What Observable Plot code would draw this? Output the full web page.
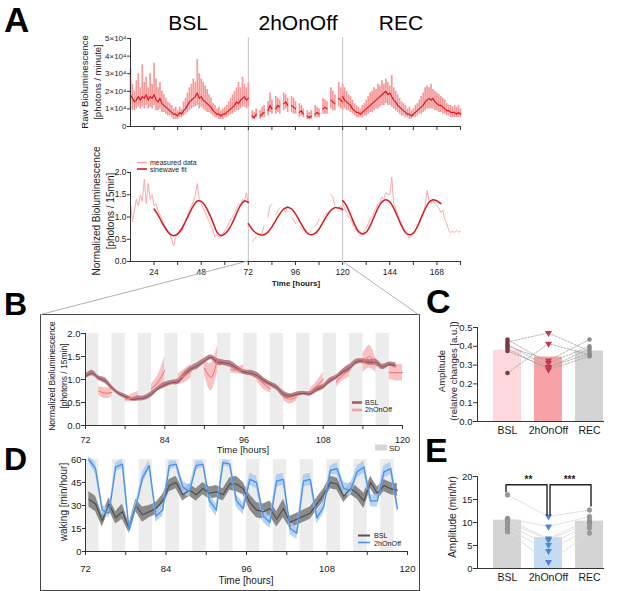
<!DOCTYPE html>
<html><head><meta charset="utf-8">
<script src="https://cdn.jsdelivr.net/npm/d3@7"></script>
<script src="https://cdn.jsdelivr.net/npm/@observablehq/plot@0.6"></script>
<style>
body{margin:0;background:#fff;}
#fig{position:relative;width:617px;height:591px;overflow:hidden;background:#fff;}
</style></head><body><div id="fig"></div>
<script>
// ---------------- DATA ----------------
const sessions = ["BSL", "2hOnOff", "REC"];
const sessionBounds = [72, 120];
const sdStarts = [72, 76, 80, 84, 88, 92, 96, 100, 104, 108, 112, 116];
const sdDuration = 2;
const onOffStarts = [74, 78, 82, 86, 90, 94, 98, 102, 106, 110, 114, 118];

// Panel A top: raw bioluminescence (thousands of photons / minute), hourly
const rawCoreBSL = [18,16,14,15,17,15,17,16,18,15, 17,16,18,15,14,16,13,12,11,10, 9,8,7,7,6,8,7,9,10,12, 14,15,16,17,19,16,17,15,14,13, 12,11,9,8,7,7,6,7,7,8, 9,10,11,12,14,13,15,16,17,15, 16];
const rawPeakBSL = [33,24,20,26,30,22,35,25,28,22, 30,24,36,27,22,25,20,18,16,14, 13,12,10,11,9,11,10,14,16,19, 22,24,27,25,38,30,27,25,23,21, 18,16,13,12,10,11,9,10,11,12, 14,16,18,20,22,25,22,28,24,22, 25];
const rawLowBSL  = [10,9,9,10,11,10,11,10,12,10, 11,10,12,9,9,10,8,8,7,6, 6,5,4,4,4,5,5,6,7,8, 9,10,11,11,12,10,11,10,9,8, 8,7,6,5,5,4,4,4,5,5, 6,7,7,8,9,9,10,11,11,10, 11];
const rawCore2h = [6,5,7, 6,7,8, 9,12,10, 10,12,11, 13,14,12, 12,11,10, 8,9,7, 6,5,6, 7,8,7, 10,11,10, 15,14,13, 16,15,14];
const rawPeak2h = [9,8,10, 9,11,12, 14,19,15, 17,16,15, 19,18,16, 17,16,14, 13,12,10, 9,8,9, 12,11,10, 16,15,14, 22,20,18, 25,22,20];
const rawLow2h  = [4,4,5, 4,5,5, 6,8,7, 7,8,7, 9,10,8, 8,7,7, 5,6,5, 4,4,4, 5,5,5, 7,7,7, 10,9,9, 11,10,9];
const rawCoreREC = [17,15,14,13,12,10,9,8,8,7, 8,9,10,11,12,13,14,15,16,17, 18,19,20,18,19,17,15,14,12,11, 10,9,8,7,7,6,7,8,9,10, 11,12,14,15,16,15,16,14,13,12, 12,11,10,9,9,8,8,8,7,8, 7];
const rawPeakREC = [24,22,20,18,17,15,13,12,11,10, 12,13,15,17,19,20,22,21,24,23, 26,24,27,25,23,29,22,20,18,16, 14,13,12,10,11,9,10,12,13,15, 17,19,22,23,22,24,21,20,19,18, 17,16,15,13,12,12,11,12,11,12, 10];
const rawLowREC  = [11,10,9,9,8,7,6,5,5,5, 5,6,6,7,8,8,9,10,10,11, 12,12,13,12,12,11,10,9,8,7, 6,6,5,5,4,4,5,5,6,7, 7,8,9,10,10,10,10,9,9,8, 8,7,7,6,6,5,5,5,5,5, 5];
const rawTickValues = [0, 10, 20, 30, 40, 50];
const rawTickLabels = ["0", "1×10⁴", "2×10⁴", "3×10⁴", "4×10⁴", "5×10⁴"];

// Panel A bottom: normalized bioluminescence, hourly measured + sinewave fit (2 h)
const measBSL = [1.3,0.9,1.15,1.4,1.25,1.5,1.35,1.85,1.3,1.75, 1.4,1.5,1.25,1.3,1.15,1.05,0.95,0.85,0.75,0.7, 0.6,0.5,0.35,0.55,0.6,0.7,0.65,0.8,0.9,1.0, 1.15,1.25,1.35,1.5,1.75,1.4,1.3,1.2,1.1,1.0, 0.9,0.8,0.7,0.55,0.6,0.55,0.6,0.62,0.7,0.75, 0.85,0.95,1.0,1.1,1.2,1.3,1.25,1.4,1.35,1.55, 1.3];
const meas2h = [0.45,0.5,0.55, 0.6,0.65,0.8, 1.0,1.25,1.3, 1.05,1.15,1.2, 1.2,1.1,1.25, 1.0,0.95,0.85, 0.8,0.75,0.7, 0.6,0.65,0.7, 0.8,0.85,0.95, 1.0,1.05,1.1, 1.5,1.45,1.25, 1.2,1.25,1.15];
const measREC = [1.3,1.2,1.1,1.0,0.95,0.85,0.75,0.7,0.62,0.58, 0.62,0.7,0.75,0.85,0.95,1.0,1.1,1.2,1.3,1.35, 1.45,1.4,1.55,1.5,1.5,1.9,1.3,1.2,1.05,0.95, 0.85,0.75,0.65,0.6,0.52,0.58,0.6,0.7,0.8,0.9, 1.0,1.1,1.25,1.6,1.35,1.3,1.4,1.3,1.25,1.2, 1.1,1.15,0.95,0.85,0.7,0.65,0.68,0.65,0.7,0.66, 0.68];
const fitBSL = [1.18,1.05,0.88,0.73,0.62,0.58,0.62,0.73,0.9,1.08,1.25,1.36,1.35,1.25,1.08,0.88,0.66,0.58,0.62,0.72,0.88,1.08,1.26,1.36,1.33];
const fit2h  = [0.85,0.72,0.64,0.6,0.6,0.66,0.78,0.93,1.07,1.18,1.22,1.18,1.07,0.92,0.76,0.64,0.6,0.63,0.73,0.88,1.03,1.15,1.21,1.2,1.17];
const fitREC = [1.37,1.25,1.05,0.84,0.68,0.62,0.66,0.8,1.0,1.2,1.34,1.39,1.34,1.2,1.0,0.8,0.65,0.6,0.64,0.78,0.98,1.18,1.33,1.39,1.36,1.3];
const ticksA = [24,36,48,60,72,84,96,108,120,132,144,156,168,180];
const labelsA = [24,48,72,96,120,144,168];

// Panel B: hourly mean ± SD
const bBSL = [1.06,1.14,1.03,0.97,0.82,0.7,0.63,0.57,0.58,0.6, 0.68,0.8,0.88,0.93,0.95,1.1,1.23,1.3,1.4,1.48, 1.38,1.36,1.33,1.24,1.16,1.14,1.08,0.98,0.9,0.82, 0.68,0.64,0.68,0.7,0.69,0.78,0.84,0.97,1.05,1.17, 1.25,1.38,1.4,1.37,1.37,1.27,1.33,1.3];
const bBSLsd = [0.05,0.06,0.05,0.06,0.05,0.04,0.05,0.04,0.05,0.05, 0.06,0.05,0.06,0.05,0.06,0.07,0.06,0.07,0.06,0.05, 0.07,0.06,0.07,0.06,0.05,0.06,0.07,0.06,0.05,0.06, 0.07,0.05,0.05,0.04,0.05,0.06,0.05,0.06,0.05,0.06, 0.07,0.06,0.05,0.06,0.07,0.06,0.05,0.06];
const b2h = [0.75,0.7,0.72, 0.57,0.6,0.65, 0.8,0.95,1.2, 1.0,1.08,1.18, 1.25,1.05,1.45, 1.22,1.2,1.22, 1.05,0.9,0.8, 0.62,0.57,0.62, 0.72,0.85,1.0, 0.95,1.1,1.2, 1.35,1.5,1.3, 1.15,1.15,1.15];
const b2hsd = [0.1,0.12,0.1, 0.06,0.08,0.1, 0.1,0.15,0.3, 0.12,0.15,0.15, 0.15,0.3,0.3, 0.08,0.08,0.1, 0.1,0.12,0.1, 0.08,0.1,0.08, 0.08,0.1,0.15, 0.12,0.12,0.15, 0.2,0.25,0.15, 0.15,0.18,0.18];
const ticksBD = [72,78,84,90,96,102,108,114,120];
const labelsBD = [72,84,96,108,120];

// Panel D: waking (min/hour), hourly bins centred at 72.5 ... 118.5
const dBSL = [34,31,20,31,22,26,15,30,24,26, 28,33,43,45,37,40,37,41,38,39, 37,44,44,41,32,27,26,28,21,28, 19,21,23,25,31,37,45,44,36,41, 38,33,45,38,43,41,40];
const dBSLsd = [5,5,4,4,4,5,3,4,5,4, 4,4,4,4,4,4,4,4,4,4, 4,4,5,4,5,5,5,5,5,6, 4,4,4,4,4,4,4,4,4,4, 4,5,4,4,4,4,4];
const d2h = [60,54,27,25,55,57,14,29,48,56, 23,27,56,57,42,39,56,57,33,27, 58,57,33,28,47,45,23,19,46,47, 15,12,46,47,22,29,53,54,41,40, 52,55,33,33,52,54,28];
const d2hsd = [2,4,3,3,3,3,3,3,4,3, 4,4,3,2,4,4,3,2,4,4, 2,2,4,4,4,4,4,4,4,4, 4,4,4,4,4,4,3,4,4,4, 4,4,4,4,4,4,3];

// Panel C: amplitude (relative changes)
const cBars = [0.379, 0.343, 0.375];
const cBSL = [0.436,0.423,0.41,0.40,0.388,0.375,0.258];
const c2h  = [0.311,0.471,0.29,0.325,0.276,0.285,0.414];
const cREC = [0.40,0.375,0.361,0.436,0.347,0.388,0.355];

// Panel E: amplitude (min/hr)
const eBars = [10.5, 6.7, 10.3];
const eBSL = [16.0,10.9,10.6,10.2,9.5,8.7,8.0];
const e2h  = [11.3,9.1,6.5,6.2,5.1,3.8,1.4];
const eREC = [12.7,11.3,10.6,10.0,9.6,8.8,7.7];
const eBracket1 = [16.7, 18.2, 18.2, 11.6];
const eBracket2 = [11.6, 18.2, 18.2, 13.6];
const eStars = ["**", "***"];

// ---------------- BUILD ROWS ----------------
const FONT = '"Liberation Sans", Arial, Helvetica, sans-serif';
const rawRows = [
  ...rawCoreBSL.map((v,i)=>({h:12+i, core:v, peak:rawPeakBSL[i], low:rawLowBSL[i], seg:"BSL"})),
  ...rawCore2h.map((v,i)=>({h:onOffStarts[Math.floor(i/3)]+i%3, core:v, peak:rawPeak2h[i], low:rawLow2h[i], seg:"c"+Math.floor(i/3)})),
  ...rawCoreREC.map((v,i)=>({h:120+i, core:v, peak:rawPeakREC[i], low:rawLowREC[i], seg:"REC"}))
];
const measRows = [
  ...measBSL.map((v,i)=>({h:12+i, v, seg:"BSL"})),
  ...meas2h.map((v,i)=>({h:onOffStarts[Math.floor(i/3)]+i%3, v, seg:"c"+Math.floor(i/3)})),
  ...measREC.map((v,i)=>({h:120+i, v, seg:"REC"}))
];
const fitRows = [
  ...fitBSL.map((v,i)=>({h:24+2*i, v, seg:"BSL"})),
  ...fit2h.map((v,i)=>({h:72+2*i, v, seg:"2h"})),
  ...fitREC.map((v,i)=>({h:120+2*i, v, seg:"REC"}))
];
const bBSLRows = bBSL.map((m,i)=>({h:72+i, m, lo:m-bBSLsd[i], hi:m+bBSLsd[i]}));
const b2hRows = b2h.map((m,i)=>({h:onOffStarts[Math.floor(i/3)]+i%3, m, lo:m-b2hsd[i], hi:m+b2hsd[i], seg:"c"+Math.floor(i/3)}));
const dBSLRows = dBSL.map((m,i)=>({h:72.5+i, m, lo:m-dBSLsd[i], hi:m+dBSLsd[i]}));
const d2hRows = d2h.map((m,i)=>({h:72.5+i, m, lo:m-d2hsd[i], hi:m+d2hsd[i]}));
function animalRows(a,b,c){const r=[];a.forEach((v,i)=>{r.push({id:i,g:sessions[0],v});r.push({id:i,g:sessions[1],v:b[i]});r.push({id:i,g:sessions[2],v:c[i]});});return r;}
const cRows = animalRows(cBSL,c2h,cREC);
const eRows = animalRows(eBSL,e2h,eREC);

// ---------------- HELPERS ----------------
const fig = document.getElementById("fig");
function place(el,left,top){el.style.position="absolute";el.style.left=left+"px";el.style.top=top+"px";fig.appendChild(el);return el;}
function txt(s,x,base,size,{anchor="start",weight="normal",color="#1a1a1a"}={}){
  const d=document.createElement("div");d.textContent=s;
  d.style.cssText=`position:absolute;white-space:nowrap;font-family:${FONT};font-size:${size}px;line-height:1;font-weight:${weight};color:${color};`;
  d.style.left=x+"px";d.style.top=(base-0.8465*size)+"px";
  if(anchor==="middle")d.style.transform="translateX(-50%)";
  if(anchor==="end")d.style.transform="translateX(-100%)";
  fig.appendChild(d);return d;
}
function vtxt(lines,cx,cy,size,lh){
  const d=document.createElement("div");d.innerHTML=lines.join("<br>");
  d.style.cssText=`position:absolute;white-space:nowrap;text-align:center;font-family:${FONT};font-size:${size}px;line-height:${lh||size*1.2}px;color:#1a1a1a;transform:translate(-50%,-50%) rotate(-90deg);`;
  d.style.left=cx+"px";d.style.top=cy+"px";fig.appendChild(d);return d;
}
const baseStyle={fontFamily:FONT,color:"#1a1a1a",background:"transparent",overflow:"visible"};
const AX="#333";

// ---------------- PANEL A ----------------
const A1 = Plot.plot({
  width:470,height:110,marginLeft:130,marginRight:10,marginTop:8,marginBottom:14,
  style:baseStyle,
  x:{domain:[12,180]}, y:{domain:[0,50]},
  marks:[
    Plot.ruleX(sessionBounds,{stroke:"#c4c4c4",insetTop:-1,insetBottom:-14}),
    Plot.ruleX(rawRows,{x:"h",y1:"low",y2:"peak",stroke:"#f59a9a",strokeWidth:1.7}),
    Plot.line(rawRows,{x:"h",y:"core",z:"seg",stroke:"#e3121b",strokeWidth:1.2}),
    Plot.ruleY([0],{stroke:AX}),
    Plot.ruleX([12],{stroke:AX}),
    Plot.axisX({ticks:ticksA,tickSize:4,tickFormat:()=>"",label:null,stroke:AX}),
    Plot.axisY({ticks:rawTickValues,tickFormat:d=>rawTickLabels[rawTickValues.indexOf(d)],tickSize:3,tickPadding:1,fontSize:8,label:null,stroke:AX})
  ]
});
place(A1,0,30);

const A2 = Plot.plot({
  width:470,height:150,marginLeft:130,marginRight:10,marginTop:32,marginBottom:29,
  style:baseStyle,
  x:{domain:[12,180]}, y:{domain:[0,2]},
  marks:[
    Plot.ruleX(sessionBounds,{stroke:"#c4c4c4",insetTop:-32}),
    Plot.line(measRows,{x:"h",y:"v",z:"seg",stroke:"#f5a3a3",strokeWidth:0.9}),
    Plot.line(fitRows,{x:"h",y:"v",z:"seg",stroke:"#d7191f",strokeWidth:1.5,curve:"catmull-rom"}),
    Plot.ruleY([0],{stroke:AX}),
    Plot.ruleX([12],{stroke:AX}),
    Plot.axisX({ticks:ticksA,tickSize:4,tickPadding:3,tickFormat:d=>labelsA.includes(d)?d:"",fontSize:8.5,label:null,stroke:AX}),
    Plot.axisY({ticks:[0,0.5,1,1.5,2],tickFormat:".1f",tickSize:3,tickPadding:1,fontSize:8.5,label:null,stroke:AX})
  ]
});
place(A2,0,140);

// ---------------- PANEL B ----------------
const box=document.createElement("div");
box.style.cssText="position:absolute;left:40px;top:314px;width:378px;height:275px;border:1px solid #444;";
fig.appendChild(box);

const B = Plot.plot({
  width:420,height:140,marginLeft:85,marginRight:18,marginTop:17,marginBottom:31,
  style:baseStyle,
  x:{domain:[72,120]}, y:{domain:[0,2]},
  marks:[
    Plot.rect(sdStarts,{x1:d=>d,x2:d=>d+sdDuration,fill:"#ececec"}),
    Plot.areaY(b2hRows,{x:"h",y1:"lo",y2:"hi",z:"seg",fill:"#f9c2c2",curve:"catmull-rom"}),
    Plot.areaY(bBSLRows,{x:"h",y1:"lo",y2:"hi",fill:"#b0737b",fillOpacity:0.9,curve:"catmull-rom"}),
    Plot.line(bBSLRows,{x:"h",y:"m",stroke:"#8e4a53",strokeWidth:1,curve:"catmull-rom"}),
    Plot.line(b2hRows,{x:"h",y:"m",z:"seg",stroke:"#ef7d7d",strokeWidth:1.1,curve:"catmull-rom"}),
    Plot.ruleY([0],{stroke:AX}),
    Plot.ruleX([72],{stroke:AX}),
    Plot.axisX({ticks:ticksBD,tickSize:4,tickPadding:7,tickFormat:d=>labelsBD.includes(d)?d:"",fontSize:9,label:null,stroke:AX}),
    Plot.axisY({ticks:[0,0.5,1,1.5,2],tickFormat:".1f",tickSize:4,tickPadding:1,fontSize:9.5,label:null,stroke:AX})
  ]
});
place(B,0,316);

// ---------------- PANEL D ----------------
const D = Plot.plot({
  width:420,height:134,marginLeft:85,marginRight:13,marginTop:3,marginBottom:39,
  style:baseStyle,
  x:{domain:[72,120]}, y:{domain:[0,60]},
  marks:[
    Plot.rect(sdStarts,{x1:d=>d,x2:d=>d+sdDuration,fill:"#ececec"}),
    Plot.areaY(dBSLRows,{x:"h",y1:"lo",y2:"hi",fill:"#7f7f7f",fillOpacity:0.9}),
    Plot.areaY(d2hRows,{x:"h",y1:"lo",y2:"hi",fill:"#a9cbf2",fillOpacity:0.85}),
    Plot.line(dBSLRows,{x:"h",y:"m",stroke:"#4a4a4a",strokeWidth:1.1}),
    Plot.line(d2hRows,{x:"h",y:"m",stroke:"#4b93e6",strokeWidth:1.4}),
    Plot.ruleY([0],{stroke:AX}),
    Plot.ruleX([72],{stroke:AX}),
    Plot.axisX({ticks:ticksBD,tickSize:4,tickPadding:10,tickFormat:d=>labelsBD.includes(d)?d:"",fontSize:9.5,label:null,stroke:AX}),
    Plot.axisY({ticks:[0,15,30,45,60],tickSize:3,tickPadding:1,fontSize:9.5,label:null,stroke:AX})
  ]
});
place(D,0,456);

// ---------------- PANEL C ----------------
const cFill={"BSL":"#fdd8dc","2hOnOff":"#f9a2a6","REC":"#d4d4d4"};
const C = Plot.plot({
  width:207,height:125,marginLeft:67,marginRight:13,marginTop:7,marginBottom:24,
  style:baseStyle,
  x:{domain:sessions,paddingInner:0.325,paddingOuter:0.19,align:0.92},
  y:{domain:[0,0.5]},
  color:{type:"identity"},
  marks:[
    Plot.barY(sessions,{x:d=>d,y:(d,i)=>cBars[i],fill:d=>cFill[d]}),
    Plot.line(cRows,{x:"g",y:"v",z:"id",stroke:"#a3a3a3",strokeWidth:0.8,strokeDasharray:"2,1.5"}),
    Plot.dot(cRows.filter(d=>d.g==="BSL"),{x:"g",y:"v",r:2.3,fill:"#7b3944"}),
    Plot.dot(cRows.filter(d=>d.g==="2hOnOff"),{x:"g",y:"v",r:2.6,symbol:"triangle",rotate:180,fill:"#c23a4b"}),
    Plot.dot(cRows.filter(d=>d.g==="REC"),{x:"g",y:"v",r:2.3,fill:"#8a8a8a"}),
    Plot.ruleY([0],{stroke:AX}),
    Plot.frame({anchor:"left",stroke:AX}),
    Plot.axisY({ticks:[0,0.1,0.2,0.3,0.4,0.5],tickFormat:".1f",tickSize:4,tickPadding:1,fontSize:9.5,label:null,stroke:AX}),
    Plot.axisX({tickSize:0,tickPadding:5,fontSize:10.5,label:null})
  ]
});
place(C,410,320);

// ---------------- PANEL E ----------------
const eFill={"BSL":"#d4d4d4","2hOnOff":"#c4dbf5","REC":"#d4d4d4"};
const b1=[sessions[0],sessions[0],sessions[1],sessions[1]].map((g,i)=>({g,v:eBracket1[i]}));
const b2=[sessions[1],sessions[1],sessions[2],sessions[2]].map((g,i)=>({g,v:eBracket2[i]}));
const E = Plot.plot({
  width:207,height:131,marginLeft:67,marginRight:13,marginTop:16,marginBottom:23,
  style:baseStyle,
  x:{domain:sessions,paddingInner:0.325,paddingOuter:0.19,align:0.92},
  y:{domain:[0,20]},
  color:{type:"identity"},
  marks:[
    Plot.barY(sessions,{x:d=>d,y:(d,i)=>eBars[i],fill:d=>eFill[d]}),
    Plot.line(eRows,{x:"g",y:"v",z:"id",stroke:"#dcdcdc",strokeWidth:0.9}),
    Plot.dot(eRows.filter(d=>d.g==="BSL"),{x:"g",y:"v",r:2.3,fill:"#9a9a9a",stroke:"#7a7a7a",strokeWidth:0.5}),
    Plot.dot(eRows.filter(d=>d.g==="2hOnOff"),{x:"g",y:"v",r:2.6,symbol:"triangle",rotate:180,fill:"#4f86cf"}),
    Plot.dot(eRows.filter(d=>d.g==="REC"),{x:"g",y:"v",r:2.3,fill:"#9a9a9a",stroke:"#7a7a7a",strokeWidth:0.5}),
    Plot.line(b1,{x:"g",y:"v",stroke:"#222",strokeWidth:1.4,dx:-1.5}),
    Plot.line(b2,{x:"g",y:"v",stroke:"#222",strokeWidth:1.4,dx:1.5}),
    Plot.text([0,1],{x:i=>sessions[i],y:()=>eBracket1[1],text:i=>eStars[i],dx:21,dy:-5,fontSize:10,fontWeight:"bold",fill:"#222"}),
    Plot.ruleY([0],{stroke:AX}),
    Plot.frame({anchor:"left",stroke:AX}),
    Plot.axisY({ticks:[0,5,10,15,20],tickSize:4,tickPadding:1,fontSize:9.5,label:null,stroke:AX}),
    Plot.axisX({tickSize:0,tickPadding:5,fontSize:10.5,label:null})
  ]
});
place(E,410,460);

// ---------------- OVERLAY: projection lines + legends ----------------
const ov=d3.create("svg").attr("width",617).attr("height",591)
  .style("position","absolute").style("left","0px").style("top","0px").style("pointer-events","none");
const xA=A2.scale("x");
const yBottomA=140+150-29;
ov.append("line").attr("x1",xA.apply(sessionBounds[0])).attr("y1",yBottomA).attr("x2",40.5).attr("y2",314.5).attr("stroke","#b0b0b0");
ov.append("line").attr("x1",xA.apply(sessionBounds[1])).attr("y1",yBottomA).attr("x2",418.5).attr("y2",314.5).attr("stroke","#b0b0b0");
function sw(x1,x2,y,c,w){ov.append("line").attr("x1",x1).attr("x2",x2).attr("y1",y).attr("y2",y).attr("stroke",c).attr("stroke-width",w);}
sw(137,147,162.5,"#f5a3a3",1.3); sw(137,147,169,"#d7191f",1.6);
sw(352,362,402.5,"#a0626a",2.6); sw(352,362,410,"#f3a0a0",2.6);
sw(358,370,535.5,"#555",2); sw(358,370,542.5,"#4b93e6",1.6);
ov.append("rect").attr("x",375).attr("y",444.5).attr("width",12).attr("height",6).attr("fill","#d6d6d6");
fig.appendChild(ov.node());

// ---------------- TEXT ----------------
txt("A",4,31.5,35,{weight:"bold",color:"#000"});
txt("B",4,315,32,{weight:"bold",color:"#000"});
txt("C",426,313,34,{weight:"bold",color:"#000"});
txt("D",4,470,32,{weight:"bold",color:"#000"});
txt("E",425,462,34,{weight:"bold",color:"#000"});
txt(sessions[0],188,30,21,{anchor:"middle",color:"#000"});
txt(sessions[1],298,30,21,{anchor:"middle",color:"#000"});
txt(sessions[2],401,30,21,{anchor:"middle",color:"#000"});
vtxt(["Raw Bioluminescence","[photons / minute]"],90.5,82,9.5,13);
vtxt(["Normalized Bioluminescence","[photons / 15min]"],103.5,211,10,14);
txt("Time [hours]",296,287,8,{anchor:"middle",weight:"bold"});
txt("measured data",150,165,7);
txt("sinewave fit",150,171.5,7);
vtxt(["Normalized Bioluminescence","[photons / 15min]"],58,376,8.5,11.5);
txt("Time [hours]",243,453.5,9.5,{anchor:"middle"});
txt("BSL",365,405,7.2);
txt("2hOnOff",365,412.5,7.2);
txt("SD",389,451.5,8);
vtxt(["waking [min/hour]"],64,502,10);
txt("Time [hours]",246,584,10,{anchor:"middle"});
txt("BSL",374,538.5,7.2);
txt("2hOnOff",374,546,7.2);
vtxt(["Amplitude","(relative changes [a.u.])"],447,371,9.5,11.5);
vtxt(["Amplitude (min/hr)"],453,517,10);
</script></body></html>
